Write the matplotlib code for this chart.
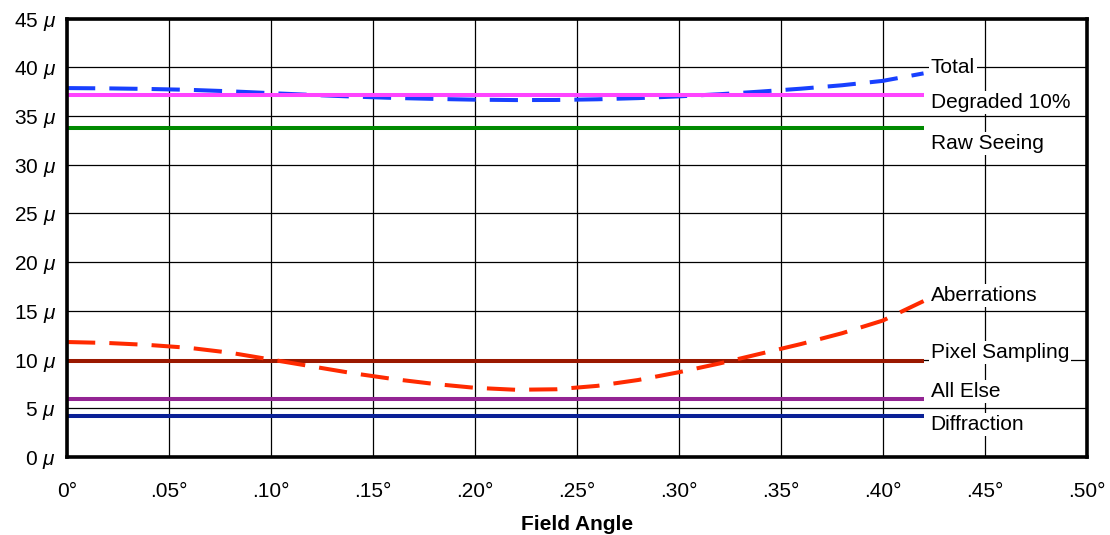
import numpy as np
import matplotlib
matplotlib.use("Agg")
import matplotlib.pyplot as plt

plt.rcParams['font.family'] = ['Liberation Sans', 'DejaVu Sans']
plt.rcParams['mathtext.fontset'] = 'custom'
plt.rcParams['mathtext.it'] = 'Liberation Sans:italic'

# field angle samples (degrees)
angle = [0.00, 0.02, 0.04, 0.06, 0.08, 0.10, 0.12, 0.14, 0.16, 0.18, 0.20,
         0.22, 0.24, 0.26, 0.28, 0.30, 0.32, 0.34, 0.36, 0.38, 0.40, 0.42]

# image size contributions (microns)
aberrations = [11.8, 11.7, 11.5, 11.2, 10.7, 10.0, 9.3, 8.6, 8.0, 7.5, 7.1,
               6.9, 6.95, 7.3, 7.9, 8.7, 9.6, 10.6, 11.6, 12.7, 14.0, 16.0]
total = [37.86, 37.83, 37.77, 37.68, 37.53, 37.34, 37.16, 36.99, 36.85, 36.75, 36.67,
         36.63, 36.64, 36.71, 36.83, 37.01, 37.23, 37.50, 37.80, 38.15, 38.60, 39.37]
degraded = 37.2
raw_seeing = 33.8
pixel_sampling = 9.9
all_else = 6.0
diffraction = 4.2

labels = ['Total', 'Degraded 10%', 'Raw Seeing', 'Aberrations',
          'Pixel Sampling', 'All Else', 'Diffraction']
label_y = [40.0, 36.4, 32.2, 16.6, 10.7, 6.7, 3.3]

fig = plt.figure(figsize=(11.1, 5.35), dpi=100)
ax = fig.add_axes([0.0604, 0.1458, 0.9186, 0.8196])

x0, x1 = angle[0], angle[-1]
ax.plot([x0, x1], [diffraction] * 2, color='#0a2096', lw=2.9, solid_capstyle='butt')
ax.plot([x0, x1], [all_else] * 2, color='#932493', lw=2.9, solid_capstyle='butt')
ax.plot([x0, x1], [pixel_sampling] * 2, color='#9a1800', lw=2.9, solid_capstyle='butt')
ax.plot([x0, x1], [raw_seeing] * 2, color='#008a00', lw=2.9, solid_capstyle='butt')
ax.plot(angle, aberrations, color='#ff2a00', lw=2.9, dashes=(7, 3.5))
ax.plot(angle, total, color='#1840ff', lw=2.9, dashes=(7, 3.5))
ax.plot([x0, x1], [degraded] * 2, color='#ff44ff', lw=2.9, solid_capstyle='butt')

for lab, ly in zip(labels, label_y):
    ax.text(0.4235, ly, lab, fontsize=15, ha='left', va='center',
            bbox=dict(facecolor='white', edgecolor='none', pad=1.5))

ax.set_xlim(0, 0.5)
ax.set_ylim(0, 45)
xt = np.arange(0, 0.501, 0.05)
ax.set_xticks(xt)
ax.set_xticklabels(['0°'] + ['.%02d°' % round(v * 100) for v in xt[1:]], fontsize=15)
yt = np.arange(0, 46, 5)
ax.set_yticks(yt)
ax.set_yticklabels(['%d $\\mu$' % v for v in yt], fontsize=15)
ax.tick_params(axis='x', length=0, pad=18)
ax.tick_params(axis='y', length=0, pad=8)
ax.grid(True, color='black', lw=0.9)
ax.set_axisbelow(True)
for s in ax.spines.values():
    s.set_linewidth(2.6)
ax.set_xlabel('Field Angle', fontsize=15, fontweight='bold', labelpad=10)

fig.savefig('out.png', dpi=100)
